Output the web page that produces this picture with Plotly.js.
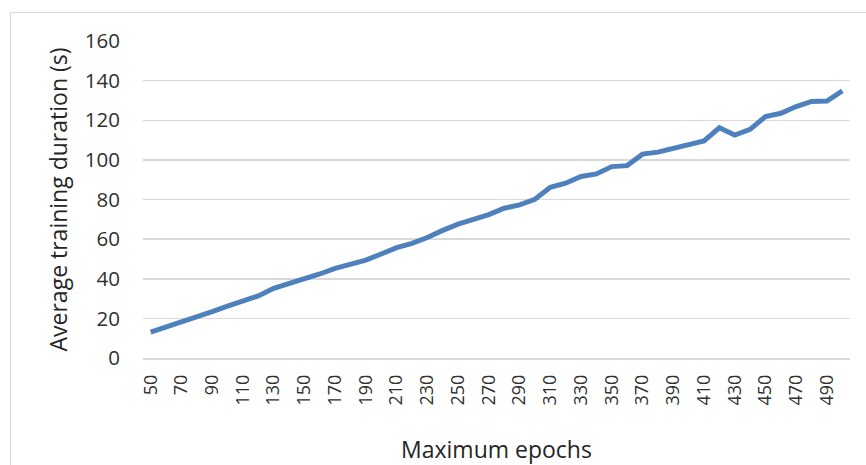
<!DOCTYPE html>
<html>
<head>
<meta charset="utf-8">
<script src="https://cdn.plot.ly/plotly-3.0.1.min.js"></script>
<style>
  html, body { margin: 0; padding: 0; background: #fff; }
  #chart { position: absolute; left: 0; top: 0; width: 866px; height: 465px; }
  #frame { position: absolute; left: 10px; top: 12px; width: 870px; height: 460px;
           border: 1px solid #d9d9d9; pointer-events: none; }
</style>
</head>
<body>
<div id="chart"></div>
<div id="frame"></div>
<script>
const epochs = ["50","60","70","80","90","100","110","120","130","140","150","160","170","180","190","200",
  "210","220","230","240","250","260","270","280","290","300","310","320","330","340","350","360",
  "370","380","390","400","410","420","430","440","450","460","470","480","490","500"];
const duration = [13.0,15.5,18.3,20.9,23.4,26.2,28.9,31.3,35.2,37.6,39.6,42.4,45.2,47.6,49.4,52.5,
  55.7,57.9,60.8,64.4,67.6,70.0,72.4,75.6,77.3,80.1,86.2,88.2,91.6,92.9,96.6,97.1,
  102.9,103.9,105.7,108.0,109.6,116.2,112.5,115.4,121.9,123.5,126.9,129.5,129.7,134.8];
const xTickLabels = ["50","70","90","110","130","150","170","190","210","230","250","270","290",
  "310","330","350","370","390","410","430","450","470","490"];
const yTicks = [0,20,40,60,80,100,120,140,160];

const trace = {
  x: epochs, y: duration, type: "scatter", mode: "lines",
  line: { color: "#4E80BD", width: 5, shape: "linear" },
  hoverinfo: "skip"
};

const layout = {
  width: 866, height: 465,
  margin: { l: 143, r: 16, t: 41, b: 107 },
  paper_bgcolor: "rgba(0,0,0,0)", plot_bgcolor: "#fff",
  showlegend: false,
  font: { family: "Open Sans, sans-serif", color: "#303030" },
  xaxis: {
    type: "category",
    range: [-0.5, epochs.length - 0.5],
    tickmode: "array", tickvals: xTickLabels, ticktext: xTickLabels,
    tickangle: -90, tickfont: { size: 18, color: "#303030" },
    showgrid: false, zeroline: false,
    showline: true, linecolor: "#d9d9d9", linewidth: 1.5,
    ticks: "", ticklabelstandoff: 8,
    automargin: false,
    title: { text: "Maximum epochs", font: { size: 23, color: "#262626" }, standoff: 38 }
  },
  yaxis: {
    range: [0, 160], tickmode: "array", tickvals: yTicks,
    tickfont: { size: 20.5, color: "#303030" },
    showgrid: true, gridcolor: "#d9d9d9", gridwidth: 1.5,
    zeroline: false, showline: false, ticks: "", ticklabelstandoff: 22,
    automargin: false,
    title: { text: "Average training duration (s)", font: { size: 23, color: "#262626" }, standoff: 10 }
  }
};

Plotly.newPlot("chart", [trace], layout, { displayModeBar: false, staticPlot: true });
</script>
</body>
</html>
